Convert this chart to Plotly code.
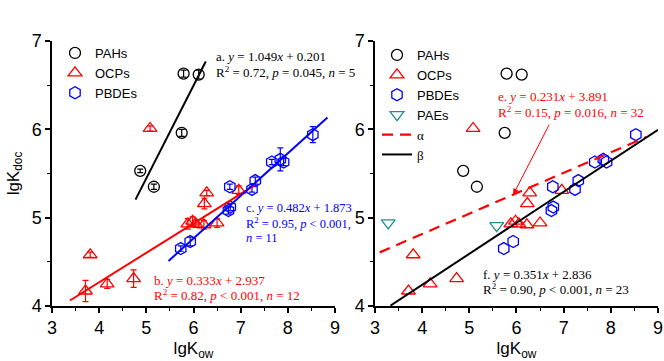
import plotly.graph_objects as go

# ---------------- data ----------------
pah_x = [5.79, 6.11, 5.75, 4.87, 5.16]
pah_y = [6.63, 6.62, 5.96, 5.53, 5.35]
pah_err = [0.04, 0.05, 0.04, 0.02, 0.03]

ocp_x = [5.08, 3.81, 3.71, 4.17, 4.73, 5.88, 5.98, 6.05, 6.22, 6.50, 6.23, 6.28, 6.96]
ocp_y = [6.01, 4.58, 4.17, 4.25, 4.31, 4.93, 4.96, 4.93, 4.92, 4.94, 5.16, 5.28, 5.31]
ocp_err = [0.03, 0.03, 0.12, 0.05, 0.10, 0.06, 0.05, 0.04, 0.05, 0.05, 0.06, 0.03, 0.05]

pbde_x = [8.53, 7.66, 7.84, 7.91, 7.31, 7.24, 6.77, 6.78, 6.74, 5.93, 5.73]
pbde_y = [5.94, 5.63, 5.66, 5.63, 5.42, 5.32, 5.35, 5.12, 5.08, 4.73, 4.65]
pbde_err = [0.09, 0.03, 0.13, 0.04, 0.04, 0.03, 0.03, 0.04, 0.04, 0.05, 0.03]

pae_x = [3.28, 5.58]
pae_y = [4.94, 4.91]

# fitted lines: slope, intercept, x-range
fit_a = (1.049, 0.201, [4.77, 6.26])   # PAHs
fit_b = (0.333, 2.937, [3.38, 7.30])   # OCPs
fit_c = (0.482, 1.873, [5.47, 8.84])   # PBDEs
fit_e = (0.231, 3.891, [3.10, 8.75])   # alpha
fit_f = (0.351, 2.836, [3.33, 9.00])   # beta

x_ticks = [3, 4, 5, 6, 7, 8, 9]
y_ticks = [4, 5, 6, 7]

RED = "#ff0000"
BLUE = "#0000ff"
TEAL = "#1f8f8f"
SANS = "Liberation Sans, Arial, sans-serif"
SERIF = "Liberation Serif, Times New Roman, serif"


def line_pts(fit):
    m, c, xr = fit
    return xr, [m * v + c for v in xr]


fig = go.Figure()

err_common = dict(type="data", thickness=1.2, width=3)

# ---------- panel a ----------
fig.add_trace(go.Scatter(x=pah_x, y=pah_y, mode="markers", name="PAHs",
                         marker=dict(symbol="circle-open", size=11, color="black", line=dict(width=1.3)),
                         error_y=dict(array=pah_err, color="black", **err_common),
                         xaxis="x", yaxis="y", legend="legend"))
fig.add_trace(go.Scatter(x=ocp_x, y=ocp_y, mode="markers", name="OCPs",
                         marker=dict(symbol="triangle-up-open", size=12, color=RED, line=dict(width=1.3)),
                         error_y=dict(array=ocp_err, color=RED, **err_common),
                         xaxis="x", yaxis="y", legend="legend"))
fig.add_trace(go.Scatter(x=pbde_x, y=pbde_y, mode="markers", name="PBDEs",
                         marker=dict(symbol="hexagon-open", size=12, color=BLUE, line=dict(width=1.3)),
                         error_y=dict(array=pbde_err, color=BLUE, **err_common),
                         xaxis="x", yaxis="y", legend="legend"))
for fit, col in [(fit_a, "black"), (fit_b, RED), (fit_c, BLUE)]:
    lx, ly = line_pts(fit)
    fig.add_trace(go.Scatter(x=lx, y=ly, mode="lines", showlegend=False,
                             line=dict(color=col, width=2), xaxis="x", yaxis="y"))

# ---------- panel b ----------
fig.add_trace(go.Scatter(x=pah_x, y=pah_y, mode="markers", name="PAHs",
                         marker=dict(symbol="circle-open", size=11, color="black", line=dict(width=1.3)),
                         xaxis="x2", yaxis="y2", legend="legend2"))
fig.add_trace(go.Scatter(x=ocp_x, y=ocp_y, mode="markers", name="OCPs",
                         marker=dict(symbol="triangle-up-open", size=12, color=RED, line=dict(width=1.3)),
                         xaxis="x2", yaxis="y2", legend="legend2"))
fig.add_trace(go.Scatter(x=pbde_x, y=pbde_y, mode="markers", name="PBDEs",
                         marker=dict(symbol="hexagon-open", size=12, color=BLUE, line=dict(width=1.3)),
                         xaxis="x2", yaxis="y2", legend="legend2"))
fig.add_trace(go.Scatter(x=pae_x, y=pae_y, mode="markers", name="PAEs",
                         marker=dict(symbol="triangle-down-open", size=12, color=TEAL, line=dict(width=1.3)),
                         xaxis="x2", yaxis="y2", legend="legend2"))
lx, ly = line_pts(fit_e)
fig.add_trace(go.Scatter(x=lx, y=ly, mode="lines", name="<span style='font-family:Liberation Serif'>α</span>",
                         line=dict(color=RED, width=2.2, dash="11px,7px"),
                         xaxis="x2", yaxis="y2", legend="legend2"))
lx, ly = line_pts(fit_f)
fig.add_trace(go.Scatter(x=lx, y=ly, mode="lines", name="<span style='font-family:Liberation Serif'>β</span>",
                         line=dict(color="black", width=2),
                         xaxis="x2", yaxis="y2", legend="legend2"))

axis_common = dict(range=[3, 9], tickvals=x_ticks, showline=True, linecolor="black", linewidth=1.5,
                   ticks="outside", ticklen=5, tickwidth=1.5, tickcolor="black",
                   minor=dict(dtick=0.5, ticks="outside", ticklen=3, tickwidth=1.2, tickcolor="black"),
                   showgrid=False, zeroline=False, mirror=False,
                   tickfont=dict(family=SANS, size=18, color="black"))
yaxis_common = dict(range=[4, 7], tickvals=y_ticks, showline=True, linecolor="black", linewidth=1.5,
                    ticks="outside", ticklen=5, tickwidth=1.5, tickcolor="black",
                    minor=dict(dtick=0.5, ticks="outside", ticklen=3, tickwidth=1.2, tickcolor="black"),
                    showgrid=False, zeroline=False, mirror=False,
                    tickfont=dict(family=SANS, size=18, color="black"))

xtitle = dict(text="lgK<sub>ow</sub>", font=dict(family=SANS, size=17, color="black"), standoff=8)

W_PLOT = 606.0
H_PLOT = 265.0


def px2paper(px, py):
    return (px - 52) / W_PLOT, (306 - py) / H_PLOT


lax, lay = px2paper(55, 38)
lbx, lby = px2paper(377, 40)

fig.update_layout(
    width=664, height=361,
    margin=dict(l=52, r=6, t=41, b=55, autoexpand=False),
    paper_bgcolor="white", plot_bgcolor="white",
    xaxis=dict(domain=[0, 0.467], anchor="y", title=xtitle, **axis_common),
    yaxis=dict(domain=[0, 1], anchor="x",
               title=dict(text="lgK<sub>doc</sub>", font=dict(family=SANS, size=17, color="black"), standoff=8),
               **yaxis_common),
    xaxis2=dict(domain=[0.533, 1], anchor="y2", title=xtitle, **axis_common),
    yaxis2=dict(domain=[0, 1], anchor="x2", **yaxis_common),
    legend=dict(x=lax, y=lay, xref="paper", yref="paper",
                xanchor="left", yanchor="top", bgcolor="rgba(0,0,0,0)",
                font=dict(family=SANS, size=13, color="black"), tracegroupgap=0),
    legend2=dict(x=lbx, y=lby, xref="paper", yref="paper",
                 xanchor="left", yanchor="top", bgcolor="rgba(0,0,0,0)",
                 font=dict(family=SANS, size=13, color="black"), tracegroupgap=0),
    showlegend=True,
)

ann = []


def txt(x, y, s, color, xref, yref, size=13):
    ann.append(dict(x=x, y=y, xref=xref, yref=yref, text=s, showarrow=False,
                    xanchor="left", yanchor="middle",
                    font=dict(family=SERIF, size=size, color=color)))


txt(6.43, 6.82, "a. <i>y</i> = 1.049<i>x</i> + 0.201", "black", "x", "y")
txt(6.43, 6.65, "R<sup>2</sup> = 0.72, <i>p</i> = 0.045, <i>n</i> = 5", "black", "x", "y")
txt(5.11, 4.29, "b. <i>y</i> = 0.333<i>x</i> + 2.937", RED, "x", "y")
txt(5.11, 4.12, "R<sup>2</sup> = 0.82, <i>p</i> &lt; 0.001, <i>n</i> = 12", RED, "x", "y")
txt(7.07, 5.11, "c. <i>y</i> = 0.482<i>x</i> + 1.873", BLUE, "x", "y", 12.5)
txt(7.07, 4.94, "R<sup>2</sup> = 0.95, <i>p</i> &lt; 0.001,", BLUE, "x", "y", 12.5)
txt(7.07, 4.77, "<i>n</i> = 11", BLUE, "x", "y", 12.5)
txt(5.56, 6.37, "e. <i>y</i> = 0.231<i>x</i> + 3.891", RED, "x2", "y2")
txt(5.56, 6.20, "R<sup>2</sup> = 0.15, <i>p</i> = 0.016, <i>n</i> = 32", RED, "x2", "y2")
txt(5.25, 4.36, "f. <i>y</i> = 0.351<i>x</i> + 2.836", "black", "x2", "y2")
txt(5.25, 4.19, "R<sup>2</sup> = 0.90, <i>p</i> &lt; 0.001, <i>n</i> = 23", "black", "x2", "y2")

# panel letters
ann.append(dict(x=3.12, y=7.2, xref="x", yref="y", text="<b>a</b>", showarrow=False,
                xanchor="left", yanchor="middle", font=dict(family=SERIF, size=21, color="black")))
ann.append(dict(x=3.12, y=7.2, xref="x2", yref="y2", text="<b>b</b>", showarrow=False,
                xanchor="left", yanchor="middle", font=dict(family=SERIF, size=21, color="black")))

# arrow in panel b
ann.append(dict(x=5.93, y=5.26, ax=6.71, ay=6.07, xref="x2", yref="y2", axref="x2", ayref="y2",
                text="", showarrow=True, arrowhead=2, arrowsize=1.2, arrowwidth=1, arrowcolor=RED))

fig.update_layout(annotations=ann)

fig.write_html("out.html")
